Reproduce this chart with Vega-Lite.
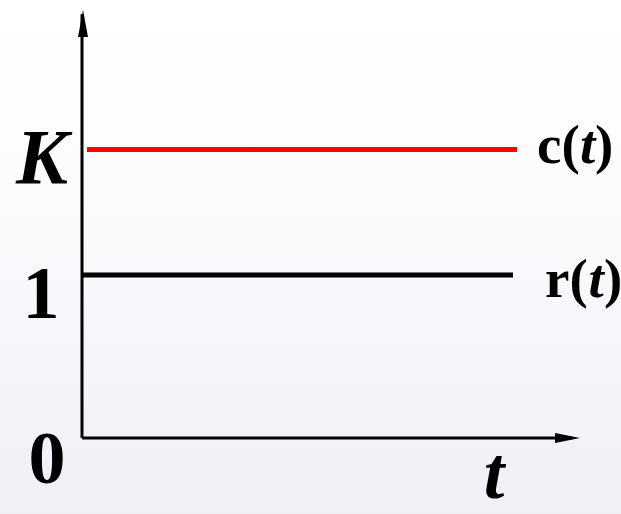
{
  "$schema": "https://vega.github.io/schema/vega-lite/v6.json",
  "width": 621,
  "height": 514,
  "autosize": {"type": "none"},
  "padding": 0,
  "background": "#ffffff",
  "config": {
    "view": {"stroke": null, "fill": {"gradient": "linear", "x1": 0, "y1": 0, "x2": 0, "y2": 1, "stops": [{"offset": 0, "color": "#ffffff"}, {"offset": 0.4, "color": "#fbfbfd"}, {"offset": 1, "color": "#eef0f6"}]}}
  },
  "datasets": {
    "axes": [
      {"t": 0, "v": 0, "t2": 0, "v2": 2.6},
      {"t": 0, "v": 0, "t2": 9.8, "v2": 0}
    ],
    "arrows": [
      {"t": 0.02, "v": 2.626, "dir": "up"},
      {"t": 9.96, "v": 0, "dir": "right"}
    ],
    "levels": [
      {"series": "c", "t": 0.1, "t2": 8.7, "v": 1.77},
      {"series": "r", "t": 0.02, "t2": 8.62, "v": 1.0}
    ],
    "ticks": [
      {"label": "1", "t": -0.82, "v": 0.736},
      {"label": "0", "t": -0.7, "v": -0.276}
    ],
    "bigItalic": [
      {"label": "K", "t": -0.8, "v": 1.564}
    ],
    "axisTitle": [
      {"label": "t", "t": 8.24, "v": -0.37}
    ],
    "serUpright": [
      {"label": "c(", "t": 9.1, "v": 1.687},
      {"label": ")", "t": 10.26, "v": 1.687},
      {"label": "r(", "t": 9.26, "v": 0.865},
      {"label": ")", "t": 10.44, "v": 0.865}
    ],
    "serItalic": [
      {"label": "t", "t": 9.96, "v": 1.687},
      {"label": "t", "t": 10.13, "v": 0.865}
    ]
  },
  "encoding": {
    "x": {"field": "t", "type": "quantitative", "axis": null, "scale": {"domain": [-1.64, 10.78], "nice": false, "zero": false}},
    "y": {"field": "v", "type": "quantitative", "axis": null, "scale": {"domain": [-0.4663, 2.6871], "nice": false, "zero": false}}
  },
  "layer": [
    {
      "data": {"name": "axes"},
      "mark": {"type": "rule", "color": "#000000", "strokeWidth": 3},
      "encoding": {"x2": {"field": "t2"}, "y2": {"field": "v2"}}
    },
    {
      "data": {"name": "arrows"},
      "mark": {"type": "point", "filled": true, "color": "#000000", "opacity": 1, "strokeWidth": 0, "size": 729},
      "encoding": {
        "shape": {"field": "dir", "type": "nominal", "legend": null, "scale": {"domain": ["up", "right"], "range": ["M0,0 L0.37,2 L-0.37,2 Z", "M0,0 L-1.85,-0.37 L-1.85,0.37 Z"]}}
      }
    },
    {
      "data": {"name": "levels"},
      "mark": {"type": "rule", "strokeWidth": 5},
      "encoding": {
        "x2": {"field": "t2"},
        "color": {"field": "series", "type": "nominal", "legend": null, "scale": {"domain": ["c", "r"], "range": ["#ff0000", "#000000"]}}
      }
    },
    {
      "data": {"name": "ticks"},
      "mark": {"type": "text", "font": "Liberation Serif", "fontWeight": "bold", "fontSize": 74, "align": "center", "baseline": "alphabetic", "color": "#000000"},
      "encoding": {"text": {"field": "label"}}
    },
    {
      "data": {"name": "bigItalic"},
      "mark": {"type": "text", "font": "Liberation Serif", "fontWeight": "bold", "fontStyle": "italic", "fontSize": 78, "align": "center", "baseline": "alphabetic", "color": "#000000"},
      "encoding": {"text": {"field": "label"}}
    },
    {
      "data": {"name": "axisTitle"},
      "mark": {"type": "text", "font": "Liberation Serif", "fontWeight": "bold", "fontStyle": "italic", "fontSize": 74, "align": "center", "baseline": "alphabetic", "color": "#000000"},
      "encoding": {"text": {"field": "label"}}
    },
    {
      "data": {"name": "serUpright"},
      "mark": {"type": "text", "font": "Liberation Serif", "fontWeight": "bold", "fontSize": 55, "align": "left", "baseline": "alphabetic", "color": "#000000"},
      "encoding": {"text": {"field": "label"}}
    },
    {
      "data": {"name": "serItalic"},
      "mark": {"type": "text", "font": "Liberation Serif", "fontWeight": "bold", "fontStyle": "italic", "fontSize": 55, "align": "left", "baseline": "alphabetic", "color": "#000000"},
      "encoding": {"text": {"field": "label"}}
    }
  ]
}
